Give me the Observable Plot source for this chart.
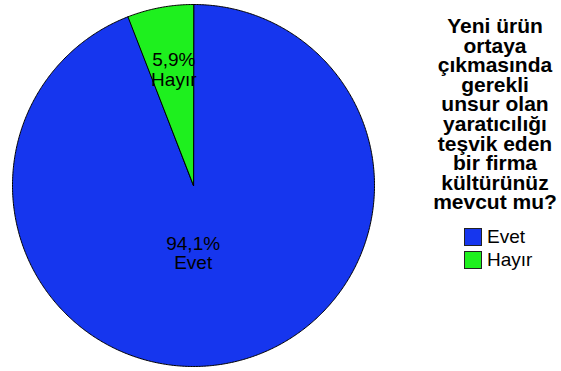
<!DOCTYPE html>
<html><head><meta charset="utf-8">
<script src="https://cdn.jsdelivr.net/npm/d3@7"></script>
<script src="https://cdn.jsdelivr.net/npm/@observablehq/plot@0.6"></script>
<style>
body{margin:0;background:#fff;}
#wrap{position:relative;width:561px;height:371px;font-family:"Liberation Sans",Arial,sans-serif;color:#000;}
#wrap svg{position:absolute;left:0;top:0;}
#ltitle{position:absolute;left:420px;top:16px;width:150px;text-align:center;font-weight:bold;font-size:21px;line-height:19.6px;}
#litems{position:absolute;left:464px;top:225px;}
.row{display:flex;align-items:center;height:23px;font-size:19px;}
.sw{width:16px;height:16px;border:1px solid #222;margin-right:5px;}
</style></head><body><div id="wrap"></div>
<script>
const categories = ["Evet", "Hayır"];
const percents = [94.1, 5.9];
const colors = ["#1636ee", "#1ef01e"];
const legendTitle = ["Yeni ürün", "ortaya", "çıkmasında", "gerekli", "unsur olan", "yaratıcılığı", "teşvik eden", "bir firma", "kültürünüz", "mevcut mu?"];

// pie geometry, clockwise from 12 o'clock
const total = d3.sum(percents);
const pts = [];
const labels = [];
let start = 0;
const labelR = [0.38, 0.65];
const labelDx = [-13, 2];
categories.forEach((c, i) => {
  const span = percents[i] / total * 2 * Math.PI;
  const end = start + span;
  pts.push({cat: c, x: 0, y: 0});
  const n = Math.max(2, Math.ceil(span / (Math.PI / 360)));
  for (let k = 0; k <= n; k++) {
    const a = start + span * k / n;
    pts.push({cat: c, x: Math.sin(a), y: Math.cos(a)});
  }
  const mid = (start + end) / 2;
  labels.push({cat: c, x: labelR[i] * Math.sin(mid), y: labelR[i] * Math.cos(mid), dx: labelDx[i],
    text: percents[i].toFixed(1).replace(".", ",") + "%\n" + c});
  start = end;
});

const chart = Plot.plot({
  width: 561, height: 371,
  marginLeft: 12, marginRight: 187, marginTop: 4, marginBottom: 5,
  x: {domain: [-1, 1], axis: null},
  y: {domain: [-1, 1], axis: null},
  color: {domain: categories, range: colors},
  style: {fontFamily: '"Liberation Sans", Arial, sans-serif', background: "transparent"},
  marks: [
    Plot.line(pts, {x: "x", y: "y", z: "cat", fill: "cat", stroke: "#000", strokeWidth: 1, curve: "linear-closed"}),
    ...labels.map(l => Plot.text([l], {x: "x", y: "y", text: "text", dx: l.dx, fontSize: 19, lineHeight: 1.03, fill: "#000"}))
  ]
});
const wrap = document.getElementById("wrap");
wrap.appendChild(chart);
const t = document.createElement("div");
t.id = "ltitle";
t.innerHTML = legendTitle.join("<br>");
wrap.appendChild(t);
const li = document.createElement("div");
li.id = "litems";
categories.forEach((c, i) => {
  const r = document.createElement("div");
  r.className = "row";
  const s = document.createElement("div");
  s.className = "sw";
  s.style.background = colors[i];
  r.appendChild(s);
  const tx = document.createElement("span");
  tx.textContent = c;
  r.appendChild(tx);
  li.appendChild(r);
});
wrap.appendChild(li);
</script></body></html>
